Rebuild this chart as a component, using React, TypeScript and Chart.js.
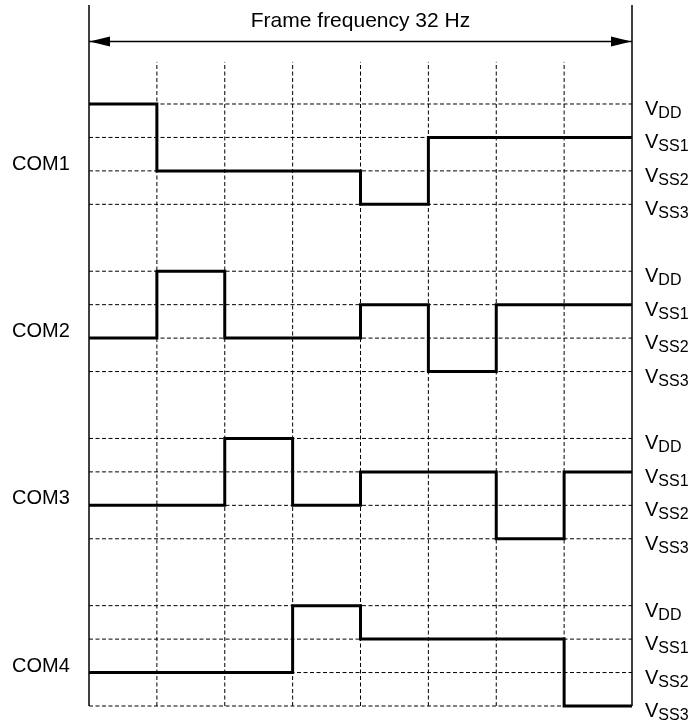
import React, { useEffect, useRef } from "react";
import { Chart, registerables } from "chart.js";

Chart.register(...registerables);

// ---- data ----
const segmentEdges = [0, 1, 2, 3, 4, 5, 6, 7, 8];
const channelNames = ["COM1", "COM2", "COM3", "COM4"];
const levelNames = ["VDD", "VSS1", "VSS2", "VSS3"];
const levelSubscripts = ["DD", "SS1", "SS2", "SS3"];
const levelValues = [3, 2, 1, 0];
const com1 = ["VDD", "VSS2", "VSS2", "VSS2", "VSS3", "VSS1", "VSS1", "VSS1"];
const com2 = ["VSS2", "VDD", "VSS2", "VSS2", "VSS1", "VSS3", "VSS1", "VSS1"];
const com3 = ["VSS2", "VSS2", "VDD", "VSS2", "VSS1", "VSS1", "VSS3", "VSS1"];
const com4 = ["VSS2", "VSS2", "VSS2", "VDD", "VSS1", "VSS1", "VSS1", "VSS3"];
const waveforms = [com1, com2, com3, com4];
const titleText = "Frame frequency 32 Hz";

// ---- layout constants ----
const GROUP_STEP = 5;
const Y_MAX = 20.96;
const ARROW_Y = 19.87;
const DOT_TOP = 19.26;
const FONT = '"Liberation Sans", Arial, Helvetica, sans-serif';

const levelValue = (name: string) => levelValues[levelNames.indexOf(name)];
const groupBase = (i: number) => (channelNames.length - 1 - i) * GROUP_STEP;

export default function App() {
  const ref = useRef<HTMLCanvasElement | null>(null);

  useEffect(() => {
    if (!ref.current) return;
    const datasets: any[] = [];
    const dashColor = "#000";

    // horizontal dashed level lines
    channelNames.forEach((_, gi) => {
      levelValues.forEach((lv) => {
        const y = groupBase(gi) + lv;
        datasets.push({
          data: [
            { x: segmentEdges[0], y },
            { x: segmentEdges[segmentEdges.length - 1], y },
          ],
          borderColor: dashColor,
          borderWidth: 1,
          borderDash: [4, 2.5],
          pointRadius: 0,
          clip: false,
        });
      });
    });

    // vertical dotted lines
    segmentEdges.slice(1, -1).forEach((x) => {
      datasets.push({
        data: [
          { x, y: 0 },
          { x, y: DOT_TOP },
        ],
        borderColor: dashColor,
        borderWidth: 1,
        borderDash: [4, 2.5],
        pointRadius: 0,
        clip: false,
      });
    });

    // solid frame verticals
    [segmentEdges[0], segmentEdges[segmentEdges.length - 1]].forEach((x) => {
      datasets.push({
        data: [
          { x, y: 0 },
          { x, y: Y_MAX },
        ],
        borderColor: "#000",
        borderWidth: 1.5,
        pointRadius: 0,
        clip: false,
      });
    });

    // arrow shaft
    datasets.push({
      data: [
        { x: segmentEdges[0], y: ARROW_Y },
        { x: segmentEdges[segmentEdges.length - 1], y: ARROW_Y },
      ],
      borderColor: "#000",
      borderWidth: 1.5,
      pointRadius: 0,
      clip: false,
    });

    // waveforms
    waveforms.forEach((wf, gi) => {
      const pts = wf.map((name, i) => ({
        x: segmentEdges[i],
        y: groupBase(gi) + levelValue(name),
      }));
      pts.push({
        x: segmentEdges[segmentEdges.length - 1],
        y: groupBase(gi) + levelValue(wf[wf.length - 1]),
      });
      datasets.push({
        label: channelNames[gi],
        data: pts,
        stepped: "before",
        borderColor: "#000",
        borderWidth: 3,
        pointRadius: 0,
        clip: false,
      });
    });

    const annotate = {
      id: "annotate",
      afterDraw(chart: any) {
        const ctx = chart.ctx;
        const xs = chart.scales.x;
        const ys = chart.scales.y;
        ctx.save();
        ctx.fillStyle = "#000";

        // arrowheads
        const ay = ys.getPixelForValue(ARROW_Y);
        const x0 = xs.getPixelForValue(segmentEdges[0]);
        const x1 = xs.getPixelForValue(segmentEdges[segmentEdges.length - 1]);
        ctx.beginPath();
        ctx.moveTo(x0 + 0.5, ay);
        ctx.lineTo(x0 + 21, ay - 5);
        ctx.lineTo(x0 + 21, ay + 5);
        ctx.closePath();
        ctx.fill();
        ctx.beginPath();
        ctx.moveTo(x1 - 0.5, ay);
        ctx.lineTo(x1 - 21, ay - 5);
        ctx.lineTo(x1 - 21, ay + 5);
        ctx.closePath();
        ctx.fill();

        // title
        ctx.font = `21px ${FONT}`;
        ctx.textAlign = "center";
        ctx.textBaseline = "alphabetic";
        ctx.fillText(titleText, (x0 + x1) / 2, 27);

        // COM labels
        ctx.font = `20px ${FONT}`;
        ctx.textAlign = "left";
        channelNames.forEach((name, gi) => {
          const y = ys.getPixelForValue(groupBase(gi) + levelValue("VSS2"));
          ctx.fillText(name, 12, y - 1);
        });

        // level labels
        channelNames.forEach((_, gi) => {
          levelNames.forEach((ln, li) => {
            const y = ys.getPixelForValue(groupBase(gi) + levelValues[li]);
            ctx.font = `20px ${FONT}`;
            ctx.fillText("V", x1 + 13, y + 11);
            const w = ctx.measureText("V").width;
            ctx.font = `16px ${FONT}`;
            ctx.fillText(levelSubscripts[li], x1 + 13 + w, y + 14);
          });
        });
        ctx.restore();
      },
    };

    const chart = new Chart(ref.current, {
      type: "line",
      data: { datasets },
      options: {
        animation: false,
        responsive: false,
        events: [],
        layout: { padding: { left: 89, right: 60, top: 5, bottom: 16 } },
        plugins: { legend: { display: false }, tooltip: { enabled: false } },
        scales: {
          x: { type: "linear", min: 0, max: 8, display: false },
          y: { type: "linear", min: 0, max: Y_MAX, display: false },
        },
      },
      plugins: [annotate],
    });
    return () => chart.destroy();
  }, []);

  return (
    <div style={{ position: "absolute", left: 0, top: 0, width: 692, height: 722, background: "#fff" }}>
      <canvas ref={ref} width={692} height={722} />
    </div>
  );
}
